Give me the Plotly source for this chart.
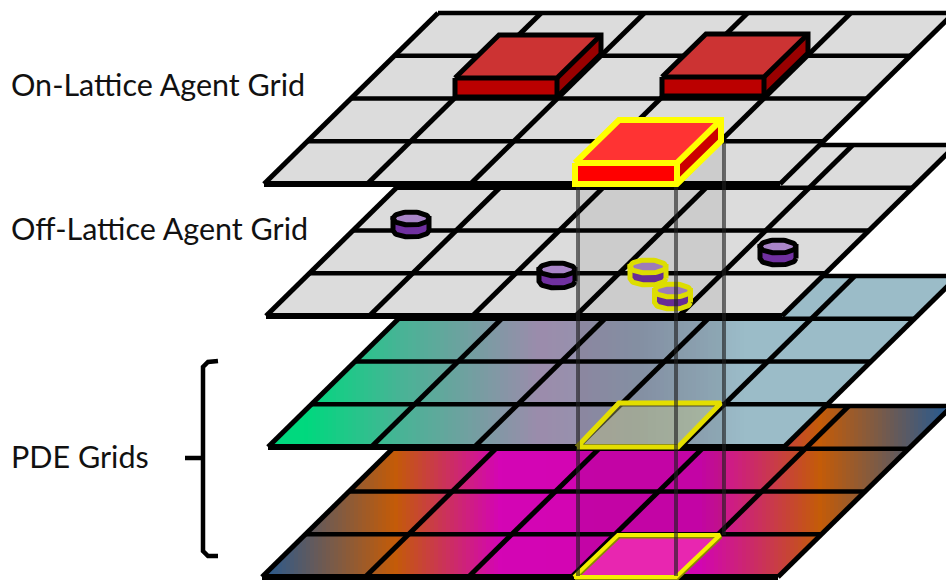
import numpy as np
import plotly.graph_objects as go

# ---- data ----
labels = ["On-Lattice Agent Grid", "Off-Lattice Agent Grid", "PDE Grids"]
label_x = [9, 9, 9]
label_y = [84, 228, 456]

layer_names = ["on_lattice", "off_lattice", "pde_top", "pde_bottom"]
layer_left = [264, 266, 268, 262]
layer_bottom = [184, 316, 447, 577]
layer_width = 516
layer_height = 171
layer_shift = 174
n_cols = 5
n_rows = 4
grey_fill = "#dcdcdc"

pde_top_stop_x = [305, 400, 540, 640, 745]
pde_top_stop_c = ["#00d97e", "#48b496", "#9c8cac", "#8f9bb0", "#9bbcc8"]
pde_bot_stop_x = [268, 395, 500, 640, 700, 820, 942]
pde_bot_stop_c = ["#2d5a8c", "#c45c08", "#d405b5", "#d205b2", "#d205b2", "#c45c08", "#2d5a8c"]

red_box_x = [455, 662]
red_box_top = [78, 77]
box_w = 102
box_h = 19
box_dx = 44
box_dy = 43
sel_box = (575, 163)
sel_box_h = 21

cyl_x = [411, 557, 778]
cyl_y = [218.5, 269.5, 246.5]
sel_cyl_x = [648, 672.5]
sel_cyl_y = [266.5, 290.5]

col_x = [578, 676, 724]
col_y0 = [185, 185, 142]
col_y1 = [576, 576, 535]

fig = go.Figure()


def poly(xs, ys, fill=None, line=None, width=0, closed=True):
    xs, ys = list(xs), list(ys)
    if closed:
        xs.append(xs[0])
        ys.append(ys[0])
    fig.add_trace(go.Scatter(
        x=xs, y=ys, mode="lines" if line else "none",
        fill="toself" if fill else None, fillcolor=fill,
        line=dict(color=line, width=width, shape="linear") if line else None,
        hoverinfo="skip", showlegend=False))


def hex2rgb(h):
    return [int(h[i:i + 2], 16) for i in (1, 3, 5)]


def gradient(left, bottom, stop_x, stop_c):
    top = bottom - layer_height
    s = layer_shift / layer_height
    rgb = np.array([hex2rgb(c) for c in stop_c], float)
    x0 = left
    end = min(left + layer_width + layer_shift, 948)
    step = 4
    while x0 < end:
        x1 = x0 + step + 1
        xm = x0 + step / 2
        col = [np.interp(xm, stop_x, rgb[:, k]) for k in range(3)]
        def yt(x):
            return max(top, bottom - (x - left) / s)
        def yb(x):
            return min(bottom, top + (left + layer_width + layer_shift - x) / s)
        poly([x0, x1, x1, x0], [yt(x0), yt(x1), yb(x1), yb(x0)],
             fill="rgb(%d,%d,%d)" % tuple(int(v) for v in col))
        x0 += step


def grid(left, bottom):
    top = bottom - layer_height
    for r in range(n_rows + 1):
        f = r / n_rows
        y = top + f * layer_height
        x = left + layer_shift * (1 - f)
        poly([x, x + layer_width], [y, y], line="#000000",
             width=6 if r == n_rows else 4.5, closed=False)
    for c in range(n_cols + 1):
        x = left + c * layer_width / n_cols
        poly([x, x + layer_shift], [bottom, top], line="#000000", width=5, closed=False)


def flat(left, bottom, colour):
    top = bottom - layer_height
    poly([left, left + layer_width, left + layer_width + layer_shift, left + layer_shift],
         [bottom, bottom, top, top], fill=colour)


def box(x, y, h, stroke, ctop, cfront, cside, lw):
    r = x + box_w
    b = y + h
    poly([x, r, r + box_dx, x + box_dx], [y, y, y - box_dy, y - box_dy], fill=ctop)
    poly([x, r, r, x], [y, y, b, b], fill=cfront)
    poly([r, r + box_dx, r + box_dx, r], [y, y - box_dy, y - box_dy + h, b], fill=cside)
    poly([x, x + box_dx, r + box_dx, r + box_dx, r, x],
         [y, y - box_dy, y - box_dy, y - box_dy + h, b, b], line=stroke, width=lw)
    poly([x, r, r + box_dx], [y, y, y - box_dy], line=stroke, width=lw, closed=False)
    poly([r, r], [y, b], line=stroke, width=lw, closed=False)


def cylinder(cx, cy, stroke):
    rx, ry, h = 18, 6.5, 12
    t = np.linspace(0, 2 * np.pi, 61)
    ex = cx + rx * np.cos(t)
    ey = cy + ry * np.sin(t)
    low = np.linspace(0, np.pi, 31)
    bx = np.concatenate([cx + rx * np.cos(low), [cx - rx, cx + rx]])
    by = np.concatenate([cy + h + ry * np.sin(low), [cy, cy]])
    poly(bx, by, fill="#7030a0", line=stroke, width=5)
    poly(ex, ey, fill="#a985c8", line=stroke, width=5)


# PDE bottom layer
gradient(layer_left[3], layer_bottom[3], pde_bot_stop_x, pde_bot_stop_c)
grid(layer_left[3], layer_bottom[3])

# PDE top layer
gradient(layer_left[2], layer_bottom[2], pde_top_stop_x, pde_top_stop_c)
grid(layer_left[2], layer_bottom[2])
poly([577, 678, 721, 619], [447, 447, 403, 403], fill="rgba(230,230,140,0.35)",
     line="#f5ef00", width=5)

# Off-lattice layer
flat(layer_left[1], layer_bottom[1], grey_fill)
grid(layer_left[1], layer_bottom[1])
for cx, cy in zip(cyl_x, cyl_y):
    cylinder(cx, cy, "#000000")
for cx, cy in zip(sel_cyl_x, sel_cyl_y):
    cylinder(cx, cy, "#eeee00")

# On-lattice layer
flat(layer_left[0], layer_bottom[0], grey_fill)
grid(layer_left[0], layer_bottom[0])
for x, y in zip(red_box_x, red_box_top):
    box(x, y, box_h, "#000000", "#cc3333", "#bb0000", "#990000", 5)

# Projection column
poly([578, 676, 724, 724, 676, 578], [184, 184, 140, 535, 576, 576], fill="rgba(0,0,0,0.07)")

# Highlighted PDE cell on the bottom layer
fx4 = [574, 676, 720, 618]
fy4 = [577, 577, 535, 535]
poly(fx4, fy4, fill="#e826b0")
poly([a + 1 for a in fx4], [a + 1.5 for a in fy4], line="#8a8a00", width=4)
poly(fx4, fy4, line="#f5ef00", width=4)

for x, y0, y1 in zip(col_x, col_y0, col_y1):
    poly([x, x], [y0, y1], line="rgba(30,30,30,0.62)", width=4, closed=False)

box(sel_box[0], sel_box[1], sel_box_h, "#ffff00", "#ff3333", "#ff0000", "#cc0000", 6)

# Bracket
poly([218, 208, 203, 203, 185, 203, 203, 208, 218],
     [361, 362, 367, 458, 458, 458, 551, 556, 556],
     line="#000000", width=4.5, closed=False)

for t, x, y in zip(labels, label_x, label_y):
    fig.add_annotation(x=x, y=y, text=t, xanchor="left", yanchor="middle", showarrow=False,
                       font=dict(family="Lato", size=30.5, color="#111111"))

fig.update_layout(
    width=946, height=580, margin=dict(l=0, r=0, t=0, b=0),
    paper_bgcolor="#ffffff", plot_bgcolor="#ffffff", showlegend=False,
    xaxis=dict(range=[0, 946], visible=False, fixedrange=True),
    yaxis=dict(range=[580, 0], visible=False, fixedrange=True),
)
fig.write_html("out.html", config={"displayModeBar": False},
               post_script="document.body.style.margin='0';document.body.style.overflow='hidden';"
                           "var s=document.createElement('style');"
                           "s.textContent='text{font-variant-ligatures:none}';"
                           "document.head.appendChild(s);")
